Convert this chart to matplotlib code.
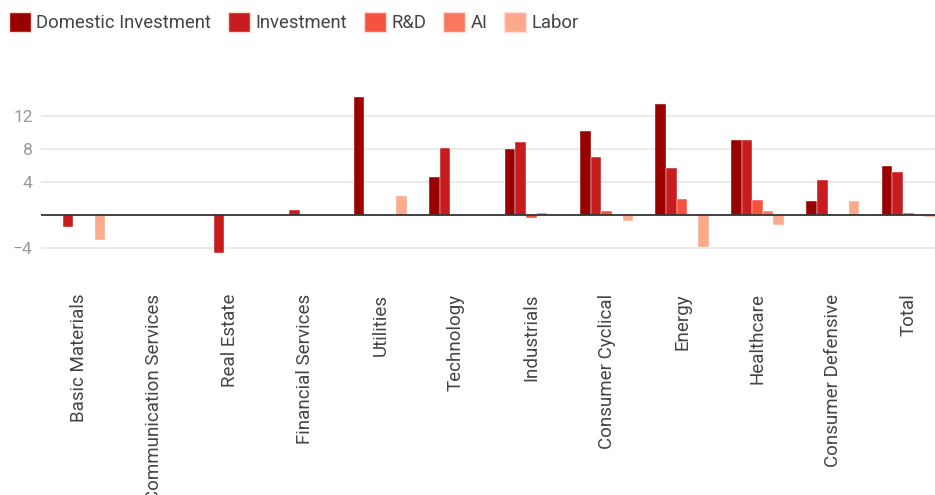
import matplotlib
matplotlib.use("Agg")
import matplotlib.pyplot as plt
import numpy as np
from matplotlib.patches import Patch

categories = ["Basic Materials", "Communication Services", "Real Estate", "Financial Services",
              "Utilities", "Technology", "Industrials", "Consumer Cyclical", "Energy",
              "Healthcare", "Consumer Defensive", "Total"]
series_names = ["Domestic Investment", "Investment", "R&D", "AI", "Labor"]
domestic = [0, 0, 0, 0, 14.3, 4.6, 8.0, 10.2, 13.45, 9.1, 1.65, 5.9]
investment = [-1.5, 0, -4.6, 0.6, 0, 8.1, 8.8, 7.0, 5.7, 9.1, 4.3, 5.25]
rnd = [0, 0, 0, 0, 0, 0, -0.4, 0.5, 1.9, 1.8, 0, 0.3]
ai = [0, 0, 0, 0, 0, 0, 0.3, 0, 0, 0.5, 0, 0.15]
labor = [-3.0, 0, 0, 0, 2.3, 0, 0, -0.7, -3.85, -1.25, 1.65, -0.2]
yticks = [-4, 4, 8, 12]
colors = ["#990000", "#c81d1f", "#f5533f", "#fb7860", "#fcaa8b"]

plt.rcParams['font.family'] = ['Roboto', 'DejaVu Sans']
fig = plt.figure(figsize=(9.35, 4.95), dpi=100)
ax = fig.add_axes([41/935, 1 - 281/495, (946 - 41)/935, (281 - 83)/495])

data = [domestic, investment, rnd, ai, labor]
x = np.arange(len(categories))
bw = 0.141
for i, (vals, c) in enumerate(zip(data, colors)):
    ax.bar(x + (i - 2) * bw, vals, width=bw, color=c, edgecolor='white', linewidth=0.3, zorder=3)

ax.set_xlim(-0.5, len(categories) - 0.5)
ax.set_ylim(-8, 16)
ax.set_yticks(yticks)
ax.set_yticklabels(["\u22124", "4", "8", "12"])
ax.yaxis.grid(True, color='#e6e6e6', linewidth=1.2, zorder=0)
ax.axhline(0, color='#333333', linewidth=1.3, zorder=4)
for s in ax.spines.values():
    s.set_visible(False)
ax.tick_params(axis='y', length=0, labelsize=12.5, labelcolor='#999999', pad=6)
ax.set_xticks(x)
ax.set_xticklabels(categories, rotation=90, fontsize=13.5, color='#444444', va='top')
ax.tick_params(axis='x', length=0, pad=9)

handles = [Patch(facecolor=c, edgecolor='#ffdddd', label=n) for n, c in zip(series_names, colors)]
fig.legend(handles=handles, loc='upper left', bbox_to_anchor=(0.0, 0.994), ncol=5, frameon=False,
           fontsize=13.3, labelcolor='#444444', handlelength=1.2, handleheight=1.3,
           handletextpad=0.27, columnspacing=0.92, borderaxespad=0.1)

fig.savefig("out.png", dpi=100)
